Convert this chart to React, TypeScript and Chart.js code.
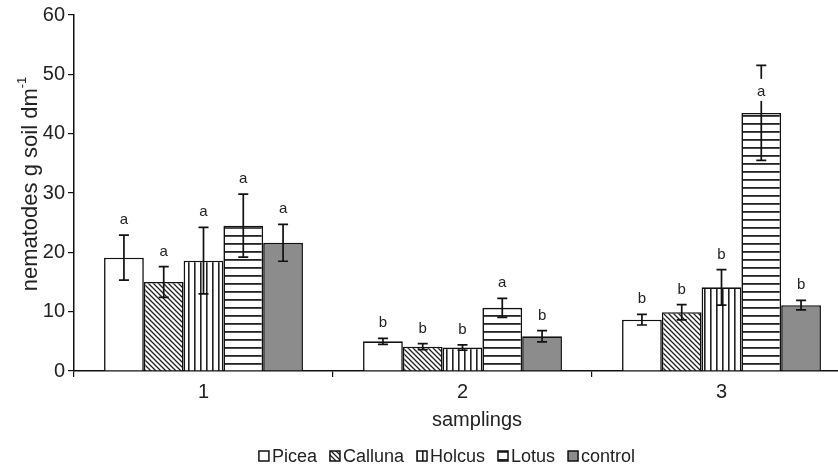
import React, { useEffect, useRef } from 'react';
import { Chart, registerables } from 'chart.js';

Chart.register(...registerables);

// ---------- data ----------
const categories = ['1', '2', '3'];
const seriesNames = ['Picea', 'Calluna', 'Holcus', 'Lotus', 'control'];

const piceaValues = [19.1, 5.0, 8.65];
const piceaErrors = [3.8, 0.5, 0.9];
const piceaLetters = ['a', 'b', 'b'];

const callunaValues = [15.0, 4.1, 9.9];
const callunaErrors = [2.6, 0.5, 1.3];
const callunaLetters = ['a', 'b', 'b'];

const holcusValues = [18.6, 3.95, 14.1];
const holcusErrors = [5.6, 0.45, 3.0];
const holcusLetters = ['a', 'b', 'b'];

const lotusValues = [24.5, 10.65, 43.5];
const lotusErrors = [5.3, 1.6, 8.0];
const lotusLetters = ['a', 'a', 'a'];

const controlValues = [21.6, 5.85, 11.1];
const controlErrors = [3.1, 0.95, 0.8];
const controlLetters = ['a', 'b', 'b'];

const yMin = 0;
const yMax = 60;
const yStep = 10;
const xTitle = 'samplings';
const yTitle = 'nematodes g soil dm';
const yTitleSup = '-1';

// ---------- styling ----------
const FONT = '"Liberation Sans", Arial, Helvetica, sans-serif';
const TEXT = '#222222';
const LINE = '#111111';
const CANVAS_W = 870;
const CANVAS_H = 470;

function makePattern(kind: string): CanvasPattern | string {
  if (kind === 'white') return '#ffffff';
  if (kind === 'gray') return '#8c8c8c';
  const c = document.createElement('canvas');
  const g = c.getContext('2d')!;
  if (kind === 'diag') {
    const s = 5;
    c.width = s; c.height = s;
    g.fillStyle = '#ffffff'; g.fillRect(0, 0, s, s);
    g.strokeStyle = '#222'; g.lineWidth = 1.3;
    g.beginPath();
    g.moveTo(-1, -1); g.lineTo(s + 1, s + 1);
    g.moveTo(-1, s - 1); g.lineTo(1, s + 1);
    g.moveTo(s - 1, -1); g.lineTo(s + 1, 1);
    g.stroke();
  } else if (kind === 'vert') {
    c.width = 6; c.height = 6;
    g.fillStyle = '#ffffff'; g.fillRect(0, 0, 6, 6);
    g.fillStyle = '#222'; g.fillRect(2, 0, 1.6, 6);
  } else if (kind === 'horiz') {
    c.width = 8; c.height = 8;
    g.fillStyle = '#ffffff'; g.fillRect(0, 0, 8, 8);
    g.fillStyle = '#222'; g.fillRect(0, 3, 8, 1.8);
  }
  return g.createPattern(c, 'repeat') as CanvasPattern;
}

export default function App() {
  const ref = useRef<HTMLCanvasElement | null>(null);

  useEffect(() => {
    const canvas = ref.current;
    if (!canvas) return;
    const fills = [
      makePattern('white'),
      makePattern('diag'),
      makePattern('vert'),
      makePattern('horiz'),
      makePattern('gray'),
    ];
    const valueSets = [piceaValues, callunaValues, holcusValues, lotusValues, controlValues];
    const errorSets = [piceaErrors, callunaErrors, holcusErrors, lotusErrors, controlErrors];
    const letterSets = [piceaLetters, callunaLetters, holcusLetters, lotusLetters, controlLetters];

    const overlay = {
      id: 'overlay',
      afterDatasetsDraw(chart: any) {
        const ctx = chart.ctx as CanvasRenderingContext2D;
        const ys = chart.scales.y;
        ctx.save();
        chart.data.datasets.forEach((ds: any, di: number) => {
          const meta = chart.getDatasetMeta(di);
          meta.data.forEach((bar: any, i: number) => {
            const v = valueSets[di][i];
            const e = errorSets[di][i];
            const x = bar.x;
            const yHi = ys.getPixelForValue(v + e);
            const yLo = ys.getPixelForValue(v - e);
            ctx.strokeStyle = LINE;
            ctx.lineWidth = 1.7;
            ctx.beginPath();
            ctx.moveTo(x, yHi); ctx.lineTo(x, yLo);
            ctx.moveTo(x - 5, yHi); ctx.lineTo(x + 5, yHi);
            ctx.moveTo(x - 5, yLo); ctx.lineTo(x + 5, yLo);
            ctx.stroke();
            // significance letter
            const barTop = bar.y;
            const baseline = yHi < barTop - 40 ? barTop - 17 : yHi - 11;
            ctx.font = `15px ${FONT}`;
            ctx.textAlign = 'center';
            ctx.textBaseline = 'alphabetic';
            const w = ctx.measureText(letterSets[di][i]).width;
            ctx.fillStyle = '#ffffff';
            ctx.fillRect(x - w / 2 - 1, baseline - 17, w + 2, 22);
            ctx.fillStyle = TEXT;
            ctx.fillText(letterSets[di][i], x, baseline);
          });
        });
        ctx.restore();
      },
      afterDraw(chart: any) {
        const ctx = chart.ctx as CanvasRenderingContext2D;
        ctx.save();
        // x title
        ctx.fillStyle = TEXT;
        ctx.font = `20px ${FONT}`;
        ctx.textAlign = 'center';
        ctx.textBaseline = 'middle';
        ctx.fillText(xTitle, 477, 420);
        // y title with superscript
        ctx.save();
        ctx.translate(29, 184);
        ctx.rotate(-Math.PI / 2);
        ctx.font = `22px ${FONT}`;
        const mainW = ctx.measureText(yTitle).width;
        ctx.font = `13px ${FONT}`;
        const supW = ctx.measureText(yTitleSup).width;
        const total = mainW + supW;
        ctx.textAlign = 'left';
        ctx.textBaseline = 'alphabetic';
        ctx.font = `22px ${FONT}`;
        ctx.fillText(yTitle, -total / 2, 8);
        ctx.font = `13px ${FONT}`;
        ctx.fillText(yTitleSup, -total / 2 + mainW, -3);
        ctx.restore();
        // legend
        ctx.font = `18px ${FONT}`;
        const box = 10, gapBox = 3, gapItem = 13;
        const widths = seriesNames.map((n) => ctx.measureText(n).width);
        let totalW = 0;
        widths.forEach((w, k) => { totalW += box + gapBox + w + (k < widths.length - 1 ? gapItem : 0); });
        let lx = 447 - totalW / 2;
        const ly = 456;
        ctx.textAlign = 'left';
        ctx.textBaseline = 'middle';
        seriesNames.forEach((n, k) => {
          ctx.fillStyle = fills[k] as any;
          ctx.fillRect(lx, ly - box / 2, box, box);
          ctx.strokeStyle = LINE;
          ctx.lineWidth = 1.5;
          ctx.strokeRect(lx, ly - box / 2, box, box);
          ctx.fillStyle = TEXT;
          ctx.fillText(n, lx + box + gapBox, ly + 1);
          lx += box + gapBox + widths[k] + gapItem;
        });
        ctx.restore();
      },
    };

    const chart = new Chart(canvas, {
      type: 'bar',
      data: {
        labels: categories,
        datasets: seriesNames.map((name, k) => ({
          label: name,
          data: valueSets[k],
          backgroundColor: fills[k] as any,
          borderColor: LINE,
          borderWidth: 1.6,
          barPercentage: 1,
          categoryPercentage: 0.768,
        })),
      },
      options: {
        responsive: false,
        devicePixelRatio: 1,
        animation: false,
        layout: { padding: { left: 0, right: CANVAS_W - 851, top: 15, bottom: 0 } },
        plugins: { legend: { display: false }, tooltip: { enabled: false }, title: { display: false } },
        scales: {
          x: {
            grid: { display: true, drawOnChartArea: false, drawTicks: true, tickLength: 6, offset: true, color: LINE, lineWidth: 1.2 },
            border: { display: true, color: LINE, width: 1.5 },
            ticks: { color: TEXT, font: { family: FONT, size: 20 }, padding: 3, maxRotation: 0 },
            afterFit: (s: any) => { s.height = 99; },
          },
          y: {
            min: yMin,
            max: yMax,
            grid: { display: true, drawOnChartArea: false, drawTicks: true, tickLength: 6, color: LINE, lineWidth: 1.2 },
            border: { display: true, color: LINE, width: 1.5 },
            ticks: { stepSize: yStep, color: TEXT, font: { family: FONT, size: 20 }, padding: 3 },
            afterFit: (s: any) => { s.width = 74; },
          },
        },
      },
      plugins: [overlay],
    });
    return () => chart.destroy();
  }, []);

  return (
    <div style={{ position: 'fixed', left: 0, top: 0, width: 838, height: 470, overflow: 'hidden', background: '#fff' }}>
      <canvas ref={ref} width={CANVAS_W} height={CANVAS_H} style={{ display: 'block', width: CANVAS_W, height: CANVAS_H }} />
    </div>
  );
}
